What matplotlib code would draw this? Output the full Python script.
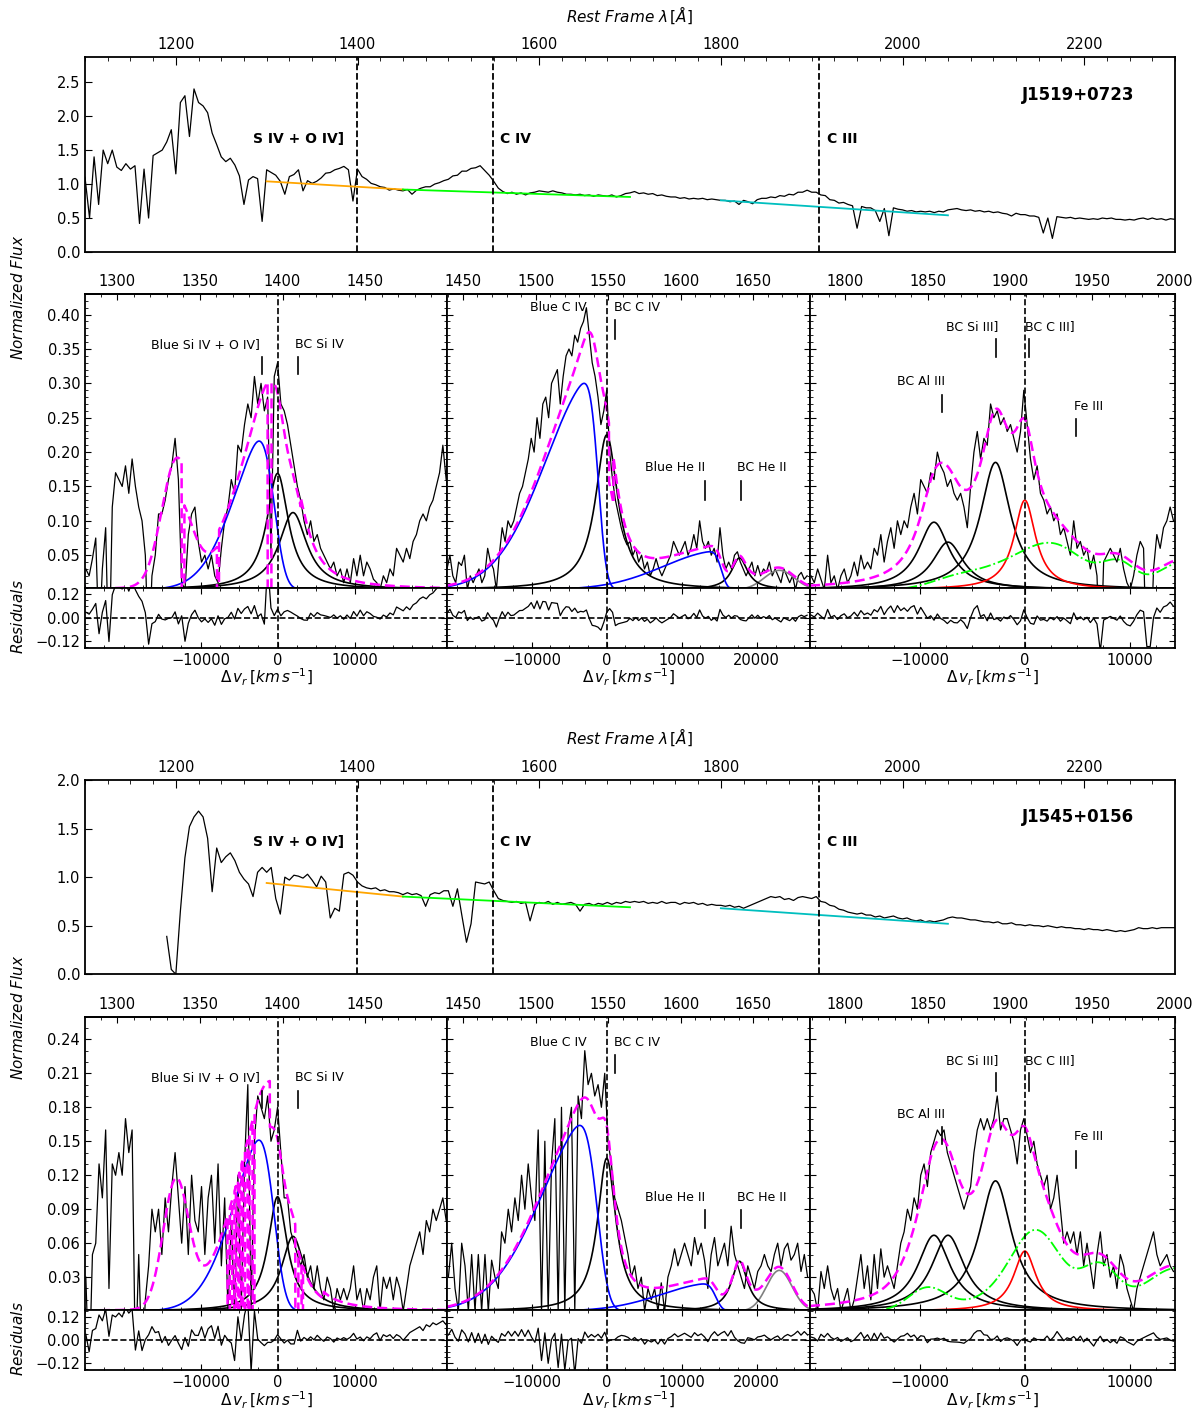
import math
import numpy as np
import matplotlib
matplotlib.use('Agg')
import matplotlib.pyplot as plt
from matplotlib.ticker import MultipleLocator, FixedLocator, AutoMinorLocator

C_KMS = 299792.458
nan = float('nan')

# ---------------- whole spectra (top panels), 5 A sampling ----------------
top_start, top_step = 1100.0, 5.0
top_lines = [1399.0, 1549.0, 1908.0]
top_line_labels = ['S IV + O IV]', 'C IV', 'C III']
top_label_x = [1385.0, 1557.0, 1917.0]
top_label_ha = ['right', 'left', 'left']

j1519_top = [
    1.10, 0.50, 1.40, 0.70, 1.50, 1.30, 1.50, 1.25, 1.20, 1.30,
    1.22, 1.27, 0.42, 1.22, 0.50, 1.42, 1.46, 1.50, 1.62, 1.80,
    1.15, 2.20, 2.30, 1.70, 2.40, 2.20, 2.15, 2.05, 1.75, 1.58,
    1.40, 1.33, 1.38, 1.28, 1.12, 0.70, 1.06, 1.11, 1.08, 0.45,
    1.21, 1.17, 1.13, 1.04, 0.85, 1.11, 1.14, 1.21, 0.90, 1.05,
    1.01, 1.04, 1.09, 1.16, 1.17, 1.21, 1.23, 1.26, 1.21, 0.75,
    1.22, 1.11, 1.07, 1.01, 0.99, 0.96, 0.95, 0.91, 0.93, 0.91,
    0.90, 0.92, 0.85, 0.91, 0.94, 0.96, 0.96, 1.00, 1.02, 1.05,
    1.07, 1.12, 1.13, 1.19, 1.19, 1.23, 1.24, 1.27, 1.20, 1.13,
    1.04, 0.94, 0.89, 0.86, 0.88, 0.85, 0.87, 0.84, 0.87, 0.88,
    0.90, 0.89, 0.88, 0.90, 0.88, 0.87, 0.85, 0.85, 0.84, 0.85,
    0.83, 0.84, 0.82, 0.84, 0.83, 0.82, 0.84, 0.81, 0.83, 0.86,
    0.87, 0.89, 0.86, 0.87, 0.85, 0.86, 0.83, 0.84, 0.82, 0.81,
    0.81, 0.79, 0.80, 0.78, 0.79, 0.78, 0.79, 0.77, 0.78, 0.77,
    0.76, 0.76, 0.74, 0.75, 0.70, 0.76, 0.74, 0.71, 0.77, 0.79,
    0.79, 0.81, 0.80, 0.83, 0.82, 0.85, 0.84, 0.88, 0.88, 0.91,
    0.88, 0.88, 0.84, 0.83, 0.77, 0.76, 0.72, 0.73, 0.70, 0.68,
    0.35, 0.67, 0.65, 0.65, 0.61, 0.45, 0.64, 0.24, 0.65, 0.63,
    0.62, 0.60, 0.61, 0.59, 0.60, 0.59, 0.60, 0.58, 0.60, 0.59,
    0.62, 0.63, 0.64, 0.62, 0.61, 0.62, 0.60, 0.61, 0.59, 0.60,
    0.58, 0.59, 0.57, 0.56, 0.53, 0.57, 0.55, 0.55, 0.53, 0.53,
    0.51, 0.28, 0.50, 0.20, 0.52, 0.51, 0.50, 0.51, 0.49, 0.50,
    0.49, 0.48, 0.49, 0.48, 0.50, 0.49, 0.50, 0.48, 0.48, 0.47,
    0.48, 0.47, 0.49, 0.50, 0.48, 0.50, 0.48, 0.49, 0.47, 0.49,
    0.48]

j1545_top = [
    nan, nan, nan, nan, nan, nan, nan, nan, nan, nan,
    nan, nan, nan, nan, nan, nan, nan, nan, 0.39, 0.05,
    0.00, 0.65, 1.20, 1.52, 1.62, 1.68, 1.62, 1.40, 0.85, 1.30,
    1.15, 1.21, 1.25, 1.17, 1.05, 0.98, 0.93, 0.80, 1.05, 1.10,
    1.05, 1.10, 0.78, 0.62, 1.00, 0.97, 1.02, 1.01, 0.99, 1.03,
    0.97, 0.90, 1.01, 0.95, 0.58, 0.68, 0.65, 1.03, 1.05, 1.02,
    0.95, 0.91, 0.89, 0.88, 0.89, 0.86, 0.87, 0.85, 0.85, 0.84,
    0.82, 0.84, 0.82, 0.83, 0.81, 0.70, 0.82, 0.84, 0.83, 0.86,
    0.86, 0.70, 0.88, 0.60, 0.33, 0.52, 0.95, 0.94, 0.93, 0.95,
    0.86, 0.78, 0.76, 0.75, 0.74, 0.75, 0.73, 0.74, 0.55, 0.72,
    0.74, 0.73, 0.75, 0.72, 0.74, 0.72, 0.73, 0.74, 0.72, 0.65,
    0.72, 0.73, 0.71, 0.73, 0.72, 0.74, 0.72, 0.74, 0.73, 0.75,
    0.74, 0.75, 0.74, 0.75, 0.73, 0.74, 0.73, 0.75, 0.73, 0.74,
    0.74, 0.72, 0.74, 0.73, 0.74, 0.72, 0.73, 0.71, 0.72, 0.71,
    0.71, 0.70, 0.71, 0.69, 0.70, 0.68, 0.70, 0.72, 0.74, 0.76,
    0.78, 0.80, 0.79, 0.80, 0.77, 0.78, 0.76, 0.79, 0.80, 0.79,
    0.78, 0.80, 0.75, 0.74, 0.71, 0.70, 0.67, 0.66, 0.64, 0.63,
    0.62, 0.63, 0.61, 0.61, 0.59, 0.60, 0.58, 0.59, 0.60, 0.58,
    0.57, 0.58, 0.56, 0.55, 0.56, 0.54, 0.55, 0.54, 0.55, 0.56,
    0.58, 0.59, 0.58, 0.58, 0.57, 0.56, 0.56, 0.55, 0.54, 0.54,
    0.53, 0.54, 0.52, 0.52, 0.53, 0.51, 0.51, 0.50, 0.51, 0.50,
    0.50, 0.49, 0.50, 0.49, 0.48, 0.49, 0.48, 0.48, 0.47, 0.47,
    0.46, 0.47, 0.46, 0.46, 0.45, 0.46, 0.45, 0.44, 0.45, 0.44,
    0.45, 0.46, 0.48, 0.47, 0.47, 0.48, 0.47, 0.48, 0.48, 0.48,
    0.48]

cont_colors = ['orange', 'lime', 'c']
cont_wave = [[1300, 1450], [1450, 1700], [1800, 2050]]
j1519_cont_flux = [[1.04, 0.92], [0.92, 0.81], [0.76, 0.54]]
j1545_cont_flux = [[0.94, 0.80], [0.80, 0.69], [0.68, 0.52]]

# ---------------- fit windows ----------------
lam0 = [1397.0, 1549.0, 1909.0]
win_lam = [[1280.5, 1499.5], [1439.0, 1689.0], [1778.5, 2000.2]]
vel_ticks = [[-10000, 0, 10000], [-10000, 0, 10000, 20000], [-10000, 0, 10000]]

# continuum subtracted flux, grids given as (first wavelength, step)
j1519_siiv_grid = [1281.0, 2.0]
j1519_siiv = [
    0.03, 0.02, 0.045, 0.075, -0.08, 0.03, 0.09, -0.12, 0.12, 0.17,
    0.16, 0.15, 0.18, 0.14, 0.19, 0.15, 0.12, 0.10, 0.05, -0.10,
    0.02, 0.05, 0.11, 0.11, 0.13, 0.16, 0.18, 0.22, 0.16, 0.01,
    0.00, 0.08, 0.11, 0.12, 0.07, 0.04, 0.05, 0.03, 0.05, 0.02,
    0.01, 0.06, 0.10, 0.12, 0.16, 0.14, 0.21, 0.20, 0.24, 0.27,
    0.25, 0.31, 0.27, 0.30, 0.26, 0.28, 0.05, 0.31, 0.33, 0.27,
    0.26, 0.24, 0.21, 0.18, 0.15, 0.13, 0.10, 0.08, 0.10, 0.07,
    0.08, 0.06, 0.05, 0.04, 0.03, 0.04, 0.02, 0.03, 0.01, 0.03,
    0.01, 0.045, 0.02, 0.05, 0.02, 0.04, 0.03, 0.015, 0.01, 0.00,
    0.02, 0.01, 0.03, 0.02, 0.06, 0.05, 0.04, 0.06, 0.045, 0.07,
    0.08, 0.10, 0.11, 0.10, 0.12, 0.13, 0.15, 0.17, 0.21, 0.16]

j1519_civ_grid = [1439.0, 2.0]
j1519_civ = [
    0.03, 0.05, 0.02, 0.01, 0.04, 0.035, 0.05, 0.00, 0.02, 0.01,
    0.02, 0.03, 0.01, 0.02, 0.06, 0.04, 0.03, 0.00, 0.05, 0.09,
    0.07, 0.10, 0.09, 0.10, 0.12, 0.14, 0.15, 0.17, 0.19, 0.22,
    0.20, 0.25, 0.22, 0.27, 0.28, 0.25, 0.30, 0.31, 0.32, 0.27,
    0.31, 0.34, 0.35, 0.34, 0.37, 0.36, 0.38, 0.39, 0.41, 0.37,
    0.33, 0.31, 0.28, 0.24, 0.26, 0.29, 0.20, 0.16, 0.13, 0.11,
    0.09, 0.075, 0.065, 0.07, 0.05, 0.06, 0.04, 0.05, 0.03, 0.04,
    0.02, 0.03, 0.045, 0.03, 0.02, 0.03, 0.04, 0.05, 0.07, 0.06,
    0.05, 0.06, 0.07, 0.05, 0.06, 0.08, 0.06, 0.10, 0.07, 0.06,
    0.07, 0.05, 0.06, 0.04, 0.09, 0.05, 0.03, 0.04, 0.03, 0.05,
    0.055, 0.04, 0.03, 0.02, 0.03, 0.04, 0.02, 0.035, 0.02, 0.03,
    0.025, 0.04, 0.02, 0.03, 0.02, 0.01, 0.03, 0.02, 0.01, 0.02,
    0.00, 0.02, 0.025, 0.015, 0.02]

j1519_ciii_grid = [1779.1, 2.02]
j1519_ciii = [
    0.02, 0.01, 0.03, 0.015, 0.00, 0.05, 0.01, 0.02, 0.00, 0.02,
    0.03, 0.01, 0.02, 0.04, 0.02, 0.05, 0.03, 0.04, 0.03, 0.06,
    0.05, 0.08, 0.04, 0.07, 0.09, 0.06, 0.10, 0.08, 0.10, 0.09,
    0.12, 0.14, 0.11, 0.16, 0.15, 0.14, 0.17, 0.16, 0.20, 0.18,
    0.17, 0.15, 0.16, 0.14, 0.13, 0.14, 0.12, 0.09, 0.15, 0.20,
    0.23, 0.19, 0.22, 0.21, 0.27, 0.25, 0.26, 0.24, 0.25, 0.23,
    0.24, 0.22, 0.20, 0.23, 0.29, 0.24, 0.19, 0.16, 0.18, 0.14,
    0.13, 0.11, 0.12, 0.10, 0.11, 0.08, 0.09, 0.07, 0.05, 0.10,
    0.06, 0.07, 0.05, 0.06, 0.03, 0.05, 0.02, -0.12, 0.04, 0.05,
    0.06, 0.05, 0.04, 0.06, 0.03, 0.01, 0.00, 0.02, 0.05, 0.07,
    0.06, -0.12, -0.12, 0.03, 0.08, 0.06, 0.09, 0.10, 0.12, 0.10]

j1545_siiv_grid = [1281.0, 2.0]
j1545_siiv = [
    0.03, -0.06, 0.05, 0.06, 0.13, 0.10, 0.16, 0.02, 0.13, 0.12,
    0.14, 0.12, 0.17, 0.14, 0.16, -0.05, 0.05, -0.05, 0.01, 0.04,
    0.09, 0.07, 0.09, 0.05, 0.10, 0.07, 0.11, 0.14, 0.10, 0.06,
    0.11, 0.05, 0.12, 0.08, 0.07, 0.11, 0.05, 0.10, 0.12, 0.06,
    0.13, 0.04, 0.10, 0.00, 0.08, 0.00, 0.12, 0.00, 0.13, 0.20,
    0.00, 0.15, 0.19, 0.18, 0.17, 0.19, 0.15, 0.16, 0.18, 0.14,
    0.10, 0.10, 0.07, 0.06, 0.05, 0.04, 0.05, 0.03, 0.04, 0.02,
    0.04, 0.02, 0.01, 0.03, 0.02, 0.00, 0.02, 0.01, 0.02, 0.01,
    0.02, 0.04, 0.01, 0.02, 0.00, 0.02, 0.01, 0.03, 0.04, 0.00,
    0.03, 0.02, 0.03, 0.01, 0.03, 0.02, 0.00, 0.02, 0.04, 0.05,
    0.06, 0.07, 0.05, 0.08, 0.07, 0.09, 0.08, 0.09, 0.10, 0.08]

j1545_civ_grid = [1439.95, 2.291]
j1545_civ = [
    0.03, 0.06, 0.02, 0.00, 0.06, 0.04, 0.00, 0.05, 0.00, 0.05,
    0.00, 0.05, 0.00, 0.045, 0.03, 0.02, 0.07, 0.06, 0.09, 0.07,
    0.10, 0.08, 0.12, 0.09, 0.13, 0.10, 0.08, 0.16, 0.00, 0.15,
    0.00, 0.13, 0.17, 0.00, 0.18, 0.00, 0.16, 0.18, 0.00, 0.19,
    0.17, 0.23, 0.20, 0.21, 0.19, 0.20, 0.18, 0.21, 0.15, 0.13,
    0.10, 0.09, 0.08, 0.065, 0.05, 0.03, 0.04, 0.02, 0.03, 0.00,
    0.02, 0.01, 0.02, 0.00, 0.025, 0.00, 0.03, 0.04, 0.055, 0.04,
    0.05, 0.06, 0.05, 0.04, 0.065, 0.05, 0.06, 0.045, 0.02, 0.05,
    0.065, 0.04, 0.05, 0.06, 0.04, 0.075, 0.05, 0.04, 0.03, 0.02,
    0.04, 0.03, 0.02, 0.035, 0.04, 0.05, 0.04, 0.035, 0.05, 0.06,
    0.04, 0.055, 0.06, 0.045, 0.05, 0.06, 0.035, 0.05, 0.03]

j1545_ciii_grid = [1779.1, 2.02]
j1545_ciii = [
    0.02, 0.015, 0.00, 0.035, 0.02, 0.04, 0.02, 0.01, 0.02, 0.00,
    0.01, 0.02, 0.00, 0.01, 0.03, 0.05, 0.02, 0.04, 0.01, 0.05,
    0.02, 0.055, 0.03, 0.04, 0.03, 0.02, 0.04, 0.06, 0.07, 0.09,
    0.08, 0.10, 0.09, 0.12, 0.13, 0.11, 0.14, 0.15, 0.16, 0.155,
    0.16, 0.14, 0.13, 0.12, 0.11, 0.10, 0.09, 0.10, 0.11, 0.14,
    0.16, 0.17, 0.16, 0.17, 0.16, 0.17, 0.19, 0.16, 0.17, 0.17,
    0.16, 0.15, 0.13, 0.16, 0.17, 0.155, 0.14, 0.15, 0.13, 0.12,
    0.11, 0.12, 0.09, 0.10, 0.12, 0.09, 0.06, 0.07, 0.06, 0.07,
    0.05, 0.07, 0.04, 0.06, 0.04, 0.02, 0.05, 0.07, 0.04, 0.05,
    0.03, 0.04, 0.02, 0.05, 0.04, 0.02, 0.01, 0.00, 0.02, 0.03,
    0.04, 0.05, 0.06, 0.07, 0.05, 0.04, 0.045, 0.05, 0.04, 0.035]

# ---------------- fitted components (velocity in km/s) ----------------
# blue: [mode, peak, width, skewness]; black/red: lorentzian [centre, peak, hwhm]
# gray/hidden: gaussian [centre, peak, sigma]; troughs: [v_lo, v_hi, transmission]
j1519_siiv_blue = [[-2400, 0.216, 4700, -4.0]]
j1519_siiv_black = [[0, 0.169, 1700], [2000, 0.112, 2200]]
j1519_siiv_hidden = [[-13100, 0.18, 1950]]
j1519_siiv_abs = [[-12450, -12100, 0.0], [-12100, -7880, 0.7], [-7880, -7600, 0.0],
                  [-7600, -1300, 0.92], [-1300, -800, 0.0], [-800, 3000, 0.9]]

j1519_civ_blue = [[-3020, 0.300, 6850, -8.0], [13700, 0.055, 7600, -12.0]]
j1519_civ_black = [[0, 0.225, 1800], [17700, 0.046, 1300]]
j1519_civ_gray = [[23000, 0.028, 2000]]
j1519_civ_abs = [[300, 900, 0.65]]

j1519_ciii_black = [[-8670, 0.098, 1800], [-7330, 0.069, 1800], [-2800, 0.185, 1750]]
j1519_ciii_red = [[0, 0.13, 1250]]
j1519_fe_centre = [-7000, -2500, 2800, 9000, 15000]
j1519_fe_peak = [0.012, 0.025, 0.062, 0.035, 0.04]
j1519_fe_sigma = [2300, 3000, 3000, 1600, 2200]

j1545_siiv_blue = [[-2430, 0.151, 4700, -4.0]]
j1545_siiv_black = [[0, 0.101, 1500], [2000, 0.066, 1800]]
j1545_siiv_hidden = [[-13200, 0.111, 1650]]
j1545_siiv_abs = [[-1000, 2300, 0.8], [2700, 6000, 0.65],
                  [-6500, -6200, 0.0], [-5900, -5600, 0.0], [-5400, -5150, 0.0],
                  [-4950, -4700, 0.0], [-4500, -4250, 0.0], [-3900, -3650, 0.0],
                  [-3250, -3000, 0.0], [2300, 2700, 0.0], [3100, 3300, 0.0]]

j1545_civ_blue = [[-3600, 0.164, 7070, -6.0], [12860, 0.024, 7100, -10.0]]
j1545_civ_black = [[0, 0.135, 1500], [17700, 0.044, 1300]]
j1545_civ_gray = [[23000, 0.036, 1700]]

j1545_ciii_black = [[-8670, 0.067, 1900], [-7330, 0.067, 1900], [-2800, 0.115, 1900]]
j1545_ciii_red = [[0, 0.053, 1300]]
j1545_fe_centre = [-9300, 500, 1100, 7200, 14500]
j1545_fe_peak = [0.02, 0.024, 0.048, 0.034, 0.038]
j1545_fe_sigma = [1800, 4000, 2200, 1700, 3000]

# labels: [text, x, ha, y, marker x (or None), marker y0, marker y1]
j1519_siiv_lab = [['Blue Si IV + O IV]', -2250, 'right', 0.357, -2030, 0.313, 0.338],
                  ['BC Si IV', 2300, 'left', 0.357, 2650, 0.313, 0.338]]
j1519_civ_lab = [['Blue C IV', -6480, 'center', 0.410, None, 0, 0],
                 ['BC C IV', 930, 'left', 0.410, 1150, 0.365, 0.392],
                 ['Blue He II', 13130, 'right', 0.177, 13130, 0.131, 0.158],
                 ['BC He II', 17350, 'left', 0.177, 17840, 0.131, 0.158]]
j1519_ciii_lab = [['BC Si III]', -2570, 'right', 0.383, -2730, 0.339, 0.364],
                  ['BC C III]', 0, 'left', 0.383, 380, 0.339, 0.364],
                  ['BC Al III', -7650, 'right', 0.303, -7880, 0.258, 0.283],
                  ['Fe III', 4700, 'left', 0.267, 4920, 0.223, 0.248]]
j1545_siiv_lab = [['Blue Si IV + O IV]', -2250, 'right', 0.206, -2030, 0.179, 0.194],
                  ['BC Si IV', 2300, 'left', 0.206, 2650, 0.179, 0.194]]
j1545_civ_lab = [['Blue C IV', -6480, 'center', 0.237, None, 0, 0],
                 ['BC C IV', 930, 'left', 0.237, 1150, 0.210, 0.226],
                 ['Blue He II', 13130, 'right', 0.100, 13130, 0.073, 0.089],
                 ['BC He II', 17350, 'left', 0.100, 17840, 0.073, 0.089]]
j1545_ciii_lab = [['BC Si III]', -2570, 'right', 0.221, -2730, 0.194, 0.210],
                  ['BC C III]', 0, 'left', 0.221, 380, 0.194, 0.210],
                  ['BC Al III', -7650, 'right', 0.174, -7880, 0.148, 0.163],
                  ['Fe III', 4700, 'left', 0.154, 4920, 0.126, 0.141]]

# ---------------- helpers ----------------
W, H = 1200.0, 1419.0
TICK_FS = 10.5
ERF = np.vectorize(math.erf)


def lorentz(v, c, a, g):
    return a / (1.0 + ((v - c) / g) ** 2)


def gauss(v, c, a, s):
    return a * np.exp(-0.5 * ((v - c) / s) ** 2)


def skewed(v, mode, peak, width, alpha):
    t = np.linspace(-3, 3, 6001)
    f = np.exp(-0.5 * t ** 2) * (1 + ERF(alpha * t / np.sqrt(2)))
    k = np.argmax(f)
    tt = (np.asarray(v) - mode) / width + t[k]
    return peak * np.exp(-0.5 * tt ** 2) * (1 + ERF(alpha * tt / np.sqrt(2))) / f[k]


def transmission(v, troughs):
    tr = np.ones_like(v)
    for lo, hi, val in troughs:
        tr[(v >= lo) & (v <= hi)] = val
    return tr


def add_ax(fig, x0, y0, x1, y1, **kw):
    return fig.add_axes([x0 / W, 1 - y1 / H, (x1 - x0) / W, (y1 - y0) / H], **kw)


def draw_top(ax, flux, cont_flux, ylim, label_y, name, name_y):
    lam = top_start + top_step * np.arange(len(flux))
    ax.plot(lam, flux, color='k', lw=0.9)
    for w, f, col in zip(cont_wave, cont_flux, cont_colors):
        ax.plot(w, f, color=col, lw=1.3)
    for x in top_lines:
        ax.axvline(x, color='k', ls='--', lw=1.3)
    for txt, x, ha in zip(top_line_labels, top_label_x, top_label_ha):
        ax.text(x, label_y, txt, ha=ha, va='center', fontsize=10, fontweight='bold')
    ax.text(2131, name_y, name, ha='left', va='center', fontsize=12, fontweight='bold')
    ax.set_xlim(1100, 2300)
    ax.set_ylim(*ylim)
    ax.xaxis.tick_top()
    ax.xaxis.set_major_locator(MultipleLocator(200))
    ax.xaxis.set_minor_locator(MultipleLocator(25))
    ax.yaxis.set_major_locator(MultipleLocator(0.5))
    ax.tick_params(axis='x', which='both', direction='in', top=True, bottom=False,
                   labeltop=True, labelbottom=False, labelsize=TICK_FS)
    ax.tick_params(axis='x', which='major', length=6)
    ax.tick_params(axis='x', which='minor', length=3)
    ax.tick_params(axis='y', direction='in', left=True, right=False, length=5, labelsize=TICK_FS)
    for s in ax.spines.values():
        s.set_linewidth(1.3)


def draw_window(ax, axr, k, grid, flux, ylim, ystep, labels, first,
                blue=(), black=(), red=(), gray=(), hidden=(), fe=None, troughs=()):
    l0 = lam0[k]

    def to_v(lam):
        return (np.asarray(lam) / l0 - 1.0) * C_KMS

    vlo, vhi = to_v(win_lam[k][0]), to_v(win_lam[k][1])
    v = np.linspace(vlo, vhi, 5000)
    lam_d = grid[0] + grid[1] * np.arange(len(flux))
    v_d = to_v(lam_d)
    f_d = np.array(flux)

    def fe_sum(vv):
        out = np.zeros_like(vv)
        if fe is not None:
            for c, a, s in zip(*fe):
                out += gauss(vv, c, a, s)
        return out

    def model(vv):
        tot = fe_sum(vv)
        for c in blue:
            tot += skewed(vv, *c)
        for c in list(black) + list(red):
            tot += lorentz(vv, *c)
        for c in list(gray) + list(hidden):
            tot += gauss(vv, *c)
        return tot * transmission(vv, troughs)

    ax.plot(v_d, f_d, color='k', lw=0.9)
    for c in gray:
        ax.plot(v, gauss(v, *c), color='gray', lw=1.2)
    for c in black:
        ax.plot(v, lorentz(v, *c), color='k', lw=1.2)
    for c in red:
        ax.plot(v, lorentz(v, *c), color='red', lw=1.2)
    for c in blue:
        ax.plot(v, skewed(v, *c), color='blue', lw=1.2)
    if fe is not None:
        ax.plot(v, fe_sum(v), color='lime', ls='-.', lw=1.3)
    ax.plot(v, model(v), color='magenta', ls='--', lw=1.8, dashes=(4, 2))
    ax.axvline(0, color='k', ls='--', lw=1.2)

    for txt, x, ha, y, xm, y0, y1 in labels:
        ax.text(x, y, txt, ha=ha, va='center', fontsize=9)
        if xm is not None:
            ax.plot([xm, xm], [y0, y1], color='k', lw=1.2)

    resid = f_d - model(v_d)
    axr.plot(v_d, resid, color='k', lw=0.9)
    axr.axhline(0, color='k', ls='--', lw=1.2)
    axr.axvline(0, color='k', ls='--', lw=1.2)

    ax.set_xlim(vlo, vhi)
    ax.set_ylim(*ylim)
    axr.set_ylim(-0.155, 0.155)
    ax.yaxis.set_major_locator(MultipleLocator(ystep))
    ax.yaxis.set_minor_locator(MultipleLocator(0.01))
    axr.yaxis.set_major_locator(FixedLocator([-0.12, 0.0, 0.12]))
    axr.yaxis.set_minor_locator(AutoMinorLocator(4))
    axr.xaxis.set_major_locator(FixedLocator(vel_ticks[k]))
    axr.xaxis.set_minor_locator(MultipleLocator(2500))

    ax.tick_params(axis='both', which='both', direction='in', top=False, bottom=True,
                   left=True, right=True, labelbottom=False, labelleft=first, labelsize=TICK_FS)
    axr.tick_params(axis='both', which='both', direction='in', top=True, bottom=True,
                    left=True, right=True, labelleft=first, labelsize=TICK_FS)
    for a in (ax, axr):
        a.tick_params(which='major', length=4)
        a.tick_params(which='minor', length=2)
        for s in a.spines.values():
            s.set_linewidth(1.3)

    # wavelength scale on top, only ticks inside the window
    lam_lo, lam_hi = win_lam[k]
    maj = [x for x in range(1300, 2001, 50) if lam_lo <= x <= lam_hi]
    mnr = [x for x in range(1280, 2001, 10) if lam_lo <= x <= lam_hi and x % 50]
    sec = ax.secondary_xaxis('top', functions=(lambda vv: l0 * (1 + vv / C_KMS),
                                                lambda ll: (ll / l0 - 1) * C_KMS))
    sec.xaxis.set_major_locator(FixedLocator(maj))
    sec.xaxis.set_minor_locator(FixedLocator(mnr))
    sec.tick_params(which='both', direction='in', labelsize=TICK_FS)
    sec.tick_params(which='major', length=4)
    sec.tick_params(which='minor', length=2)
    sec.spines['top'].set_linewidth(1.3)


# ---------------- figure ----------------
fig = plt.figure(figsize=(12, 14.19), dpi=100)
panel_x = [85, 447, 810, 1175]

blocks = [
    dict(y=(57, 252, 294, 587.5, 648), top=j1519_top, cont=j1519_cont_flux, ylim=(0, 2.87),
         label_y=1.66, name='J1519+0723', name_y=2.31, fit_ylim=(0.003, 0.43), ystep=0.05,
         windows=[
             dict(grid=j1519_siiv_grid, flux=j1519_siiv, labels=j1519_siiv_lab, blue=j1519_siiv_blue,
                  black=j1519_siiv_black, hidden=j1519_siiv_hidden, troughs=j1519_siiv_abs),
             dict(grid=j1519_civ_grid, flux=j1519_civ, labels=j1519_civ_lab, blue=j1519_civ_blue,
                  black=j1519_civ_black, gray=j1519_civ_gray, troughs=j1519_civ_abs),
             dict(grid=j1519_ciii_grid, flux=j1519_ciii, labels=j1519_ciii_lab, black=j1519_ciii_black,
                  red=j1519_ciii_red, fe=(j1519_fe_centre, j1519_fe_peak, j1519_fe_sigma))],
         vlab_y=677, nf_y=297, res_y=617, rest_y=15),
    dict(y=(780, 974.3, 1016.7, 1310, 1370), top=j1545_top, cont=j1545_cont_flux, ylim=(0, 2.0),
         label_y=1.357, name='J1545+0156', name_y=1.62, fit_ylim=(0.001, 0.26), ystep=0.03,
         windows=[
             dict(grid=j1545_siiv_grid, flux=j1545_siiv, labels=j1545_siiv_lab, blue=j1545_siiv_blue,
                  black=j1545_siiv_black, hidden=j1545_siiv_hidden, troughs=j1545_siiv_abs),
             dict(grid=j1545_civ_grid, flux=j1545_civ, labels=j1545_civ_lab, blue=j1545_civ_blue,
                  black=j1545_civ_black, gray=j1545_civ_gray),
             dict(grid=j1545_ciii_grid, flux=j1545_ciii, labels=j1545_ciii_lab, black=j1545_ciii_black,
                  red=j1545_ciii_red, fe=(j1545_fe_centre, j1545_fe_peak, j1545_fe_sigma))],
         vlab_y=1400, nf_y=1017, res_y=1339, rest_y=737),
]

for b in blocks:
    t0, t1, f0, f1, r1 = b['y']
    axt = add_ax(fig, panel_x[0], t0, panel_x[3], t1)
    draw_top(axt, b['top'], b['cont'], b['ylim'], b['label_y'], b['name'], b['name_y'])
    fig.text(630 / W, 1 - b['rest_y'] / H, r'$Rest\ Frame\ \lambda\,[\AA]$',
             ha='center', va='center', fontsize=11)
    fig.text(18 / W, 1 - b['nf_y'] / H, r'$Normalized\ Flux$', rotation=90,
             ha='center', va='center', fontsize=11)
    fig.text(18 / W, 1 - b['res_y'] / H, r'$Residuals$', rotation=90,
             ha='center', va='center', fontsize=11)
    for k, wdef in enumerate(b['windows']):
        x0, x1 = panel_x[k], panel_x[k + 1]
        ax = add_ax(fig, x0, f0, x1, f1)
        axr = add_ax(fig, x0, f1, x1, r1, sharex=ax)
        opts = {key: val for key, val in wdef.items() if key not in ('grid', 'flux', 'labels')}
        draw_window(ax, axr, k, wdef['grid'], wdef['flux'], b['fit_ylim'], b['ystep'],
                    wdef['labels'], k == 0, **opts)
        fig.text((x0 + x1) / 2 / W, 1 - b['vlab_y'] / H, r'$\Delta\,v_r\,[km\,s^{-1}]$',
                 ha='center', va='center', fontsize=11)

fig.savefig('out.png', dpi=100)
